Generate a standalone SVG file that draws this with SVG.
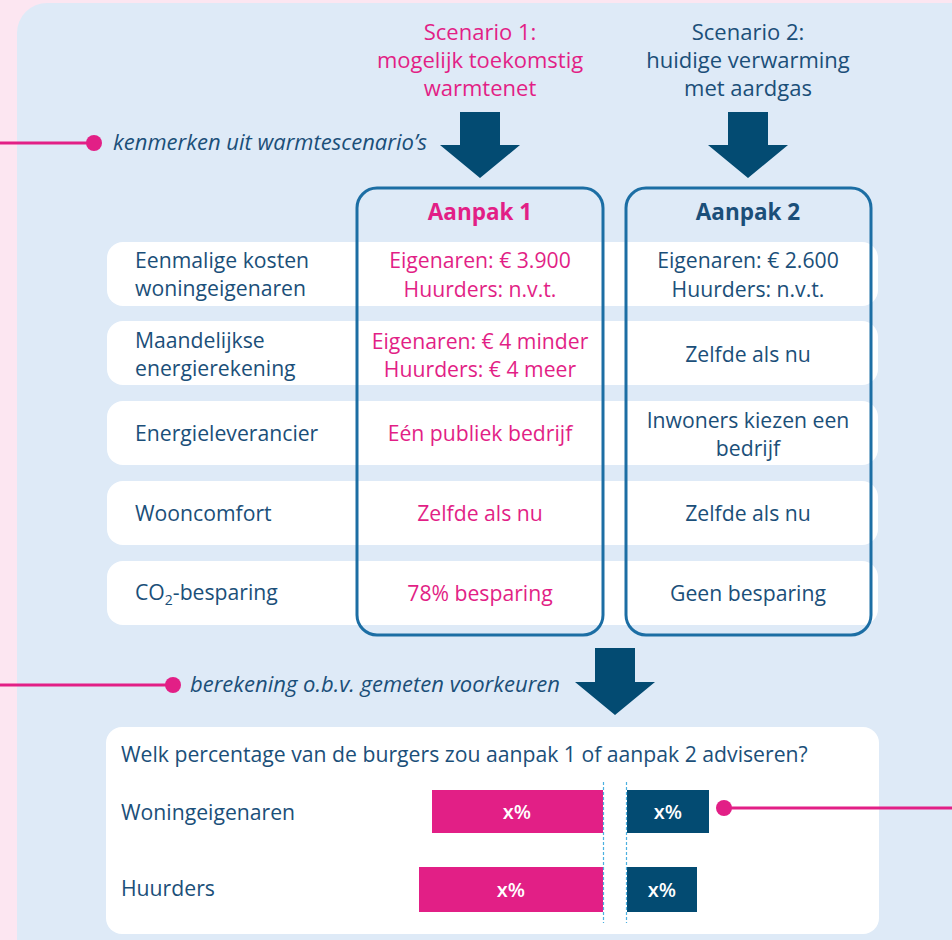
<svg xmlns="http://www.w3.org/2000/svg" width="952" height="940" viewBox="0 0 952 940">
<defs>
<style>
text{font-family:"Open Sans","Noto Sans","Liberation Sans",sans-serif;font-size:21.2px;fill:#1b4f79}
.p{fill:#e21f86}
.c{text-anchor:middle}
.t{font-size:22px}
.b{font-weight:700;font-size:22.5px}
.i{font-style:italic;font-size:22px}
.w{fill:#ffffff;font-weight:600;font-size:20px;text-anchor:middle}
.row{fill:#ffffff}
.col{fill:none;stroke:#1c6ea4;stroke-width:3}
.arrow{fill:#034b72}
.conn{stroke:#e21f86;stroke-width:3;fill:none}
.dot{fill:#e21f86}
.dash{stroke:#4ab0e0;stroke-width:1.2;stroke-dasharray:3 2}
</style>
</defs>
<rect x="0" y="0" width="952" height="940" fill="#fce6f1"/>
<rect x="17" y="3" width="980" height="980" rx="30" fill="#deeaf7"/>

<g id="scenario1">
<text class="p c t" x="480" y="40">Scenario 1:</text>
<text class="p c t" x="480" y="68">mogelijk toekomstig</text>
<text class="p c t" x="480" y="96">warmtenet</text>
</g>
<g id="scenario2">
<text class="c t" x="748" y="40">Scenario 2:</text>
<text class="c t" x="748" y="68">huidige verwarming</text>
<text class="c t" x="748" y="96">met aardgas</text>
</g>

<g id="label-kenmerken"><text class="i" x="113" y="150">kenmerken uit warmtescenario’s</text></g>
<g id="label-berekening"><text class="i" x="190" y="692">berekening o.b.v. gemeten voorkeuren</text></g>

<g id="rows">
<rect class="row" x="107" y="242" width="771" height="64" rx="16"/>
<rect class="row" x="107" y="321" width="771" height="64" rx="16"/>
<rect class="row" x="107" y="401" width="771" height="64" rx="16"/>
<rect class="row" x="107" y="481" width="771" height="64" rx="16"/>
<rect class="row" x="107" y="561" width="771" height="64" rx="16"/>
</g>

<g id="aanpak1">
<rect class="col" x="357" y="188" width="246" height="447" rx="20"/>
<text class="p c b" x="480" y="220">Aanpak 1</text>
<text class="p c" x="480" y="268">Eigenaren: € 3.900</text>
<text class="p c" x="480" y="297">Huurders: n.v.t.</text>
<text class="p c" x="480" y="349">Eigenaren: € 4 minder</text>
<text class="p c" x="480" y="377">Huurders: € 4 meer</text>
<text class="p c" x="480" y="441">Eén publiek bedrijf</text>
<text class="p c" x="480" y="521">Zelfde als nu</text>
<text class="p c" x="480" y="601">78% besparing</text>
</g>

<g id="aanpak2">
<rect class="col" x="626" y="188" width="245" height="447" rx="20"/>
<text class="c b" x="748" y="220">Aanpak 2</text>
<text class="c" x="748" y="268">Eigenaren: € 2.600</text>
<text class="c" x="748" y="297">Huurders: n.v.t.</text>
<text class="c" x="748" y="362">Zelfde als nu</text>
<text class="c" x="748" y="428">Inwoners kiezen een</text>
<text class="c" x="748" y="456">bedrijf</text>
<text class="c" x="748" y="521">Zelfde als nu</text>
<text class="c" x="748" y="601">Geen besparing</text>
</g>

<g id="labels">
<text x="135" y="268">Eenmalige kosten</text>
<text x="135" y="296">woningeigenaren</text>
<text x="135" y="348">Maandelijkse</text>
<text x="135" y="376">energierekening</text>
<text x="135" y="441">Energieleverancier</text>
<text x="135" y="521">Wooncomfort</text>
<text x="135" y="600">CO<tspan font-size="14" dy="5">2</tspan><tspan dy="-5">-besparing</tspan></text>
</g>

<g id="result">
<rect x="106" y="727" width="773" height="207" rx="16" fill="#ffffff"/>
<text x="121" y="762">Welk percentage van de burgers zou aanpak 1 of aanpak 2 adviseren?</text>
<text x="121" y="820">Woningeigenaren</text>
<text x="121" y="896">Huurders</text>
<rect x="432" y="790" width="171" height="43" fill="#e21f86"/>
<rect x="627" y="790" width="82" height="43" fill="#034b72"/>
<rect x="419" y="867" width="184" height="45" fill="#e21f86"/>
<rect x="627" y="867" width="70" height="45" fill="#034b72"/>
<line class="dash" x1="603.5" y1="782" x2="603.5" y2="923"/>
<line class="dash" x1="626.5" y1="782" x2="626.5" y2="923"/>
<text class="w" x="517" y="819">x%</text>
<text class="w" x="668" y="819">x%</text>
<text class="w" x="511" y="897">x%</text>
<text class="w" x="662" y="897">x%</text>
</g>

<g id="connectors">
<line class="conn" x1="0" y1="143" x2="94" y2="143"/>
<circle class="dot" cx="94" cy="143" r="8"/>
<line class="conn" x1="0" y1="685" x2="173" y2="685"/>
<circle class="dot" cx="173" cy="685" r="8"/>
<line class="conn" x1="724" y1="808" x2="952" y2="808"/>
<circle class="dot" cx="724" cy="808" r="8"/>
<polygon class="arrow" points="460,112 500,112 500,145 520,145 480,178 440,145 460,145"/>
<polygon class="arrow" points="728,112 768,112 768,145 788,145 748,178 708,145 728,145"/>
<polygon class="arrow" points="595,648 635,648 635,682 655,682 615,715 575,682 595,682"/>
</g>
</svg>
